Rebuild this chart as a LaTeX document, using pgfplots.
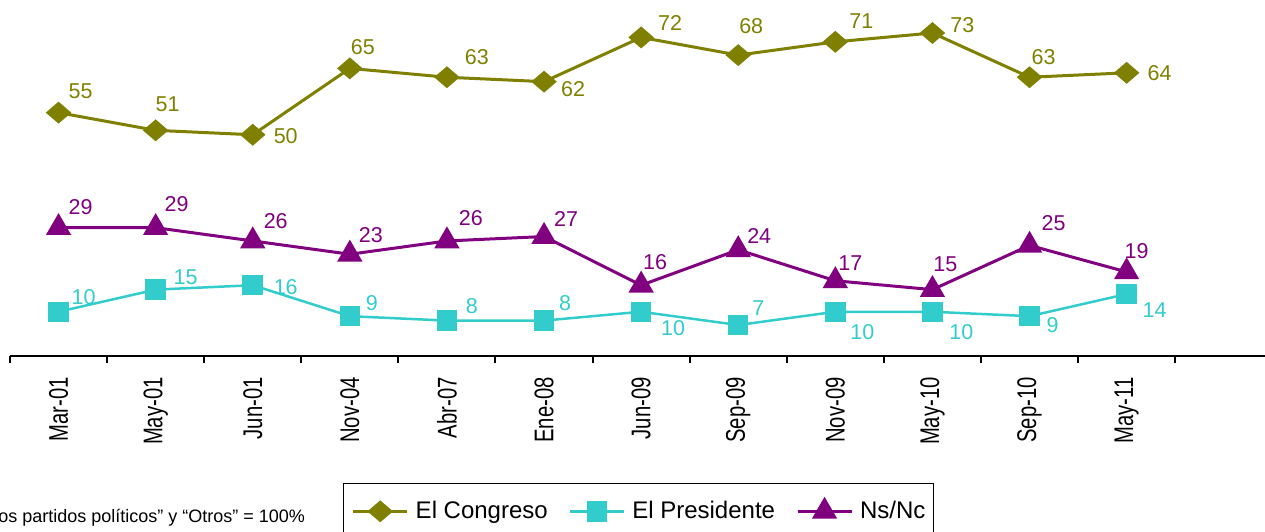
\documentclass[border=0pt]{standalone}
\usepackage{pgfplots}
\pgfplotsset{compat=1.18}
\usepackage{pgfplotstable}
\usepackage{graphicx}
\usepackage{fontspec}
\setmainfont{Liberation Sans}
\definecolor{congreso}{HTML}{808000}
\definecolor{presi}{HTML}{33CCCC}
\definecolor{nsnc}{HTML}{800080}
\newcommand\lbl[1]{\scalebox{0.75}[1]{#1}}

\pgfplotstableread{
x y dx dy
0 55 11 10.5
1 51 6 13
2 50 16.5 -0.5
3 65 6.5 10.5
4 63 15 10
5 62 14.5 -3.5
6 72 14.5 7
7 68 6.5 14.5
8 71 13 10.5
9 73 15 4
10 63 7 10
11 64 16.5 0
}\congresotab

\pgfplotstableread{
x y dx dy
0 10 12.5 7.5
1 15 15 6
2 16 16.5 -1
3 9 11 6.5
4 8 12.5 7.5
5 8 10.5 9
6 10 16 -8
7 7 10 8.5
8 10 13.5 -10
9 10 14.5 -10
10 9 11.5 -4.5
11 14 14 -8
}\presitab

\pgfplotstableread{
x y dx dy
0 29 11 10.5
1 29 10.5 12
2 26 11.5 10
3 23 10.5 9.5
4 26 12 11.5
5 27 11 9
6 16 7 11.5
7 24 10.5 7
8 17 7.5 9
9 15 6.5 12.5
10 25 12 11
11 19 5 10.5
}\nsnctab

\begin{document}
\begin{tikzpicture}
\begin{axis}[
  at={(5pt,87.5pt)}, anchor=south west,
  scale only axis, width=627.5pt, height=177pt,
  xmin=-0.5, xmax=12.425, ymin=0, ymax=80,
  axis x line=bottom, axis y line=none,
  axis line style={-, black, line width=1pt},
  xtick={0,...,11},
  xticklabels={\lbl{Mar-01},\lbl{May-01},\lbl{Jun-01},\lbl{Nov-04},\lbl{Abr-07},\lbl{Ene-08},\lbl{Jun-09},\lbl{Sep-09},\lbl{Nov-09},\lbl{May-10},\lbl{Sep-10},\lbl{May-11}},
  major tick length=0pt,
  minor xtick={-0.5,0.5,...,11.5},
  minor tick length=3.5pt,
  tick align=outside,
  tick style={black, line width=1pt},
  xticklabel style={rotate=90, anchor=east, inner sep=0pt, font=\fontsize{13.5}{15}\selectfont},
  xticklabel shift=10.5pt,
  clip=false,
  /pgf/number format/assume math mode=true,
  visualization depends on={\thisrow{dx} \as \dx},
  visualization depends on={\thisrow{dy} \as \dy},
  nodes near coords,
  nodes near coords style={anchor=center, inner sep=0pt, font=\fontsize{10.75}{12}\selectfont, xshift=\dx*1pt, yshift=\dy*1pt},
  legend columns=3,
  legend style={at={(0.26534,-0.35876)}, anchor=north west, draw=black, line width=0.75pt,
    font=\fontsize{12}{14}\selectfont, inner xsep=4pt, inner ysep=8pt,
    nodes={inner sep=0pt},
    /tikz/every odd column/.append style={column sep=3.5pt},
    /tikz/every even column/.append style={column sep=10.5pt}},
  legend cell align=left,
  legend image code/.code={\draw[mark repeat=2,mark phase=2] plot coordinates {(0pt,0pt) (13.5pt,0pt) (27pt,0pt)};},
]
\addplot[color=congreso, line width=1.5pt, mark=diamond*, mark size=4.5pt,
  mark options={xscale=1.55, solid, fill=congreso},
  every node near coord/.append style={text=congreso}]
  table[x=x, y=y] {\congresotab};
\addlegendentry{El Congreso}
\addplot[color=presi, line width=1.25pt, mark=square*, mark size=4.5pt,
  mark options={solid, fill=presi},
  every node near coord/.append style={text=presi}]
  table[x=x, y=y] {\presitab};
\addlegendentry{El Presidente}
\addplot[color=nsnc, line width=1.5pt, mark=triangle*, mark size=5.8pt,
  mark options={solid, fill=nsnc},
  every node near coord/.append style={text=nsnc}]
  table[x=x, y=y] {\nsnctab};
\addlegendentry{Ns/Nc}
\end{axis}
\node[anchor=base west, inner sep=0pt, font=\fontsize{9}{11}\selectfont] at (-1pt,4.5pt) {os partidos políticos” y “Otros” = 100\%};
\pgfresetboundingbox
\useasboundingbox (0,0) rectangle (632.5pt,265.5pt);
\end{tikzpicture}
\end{document}
